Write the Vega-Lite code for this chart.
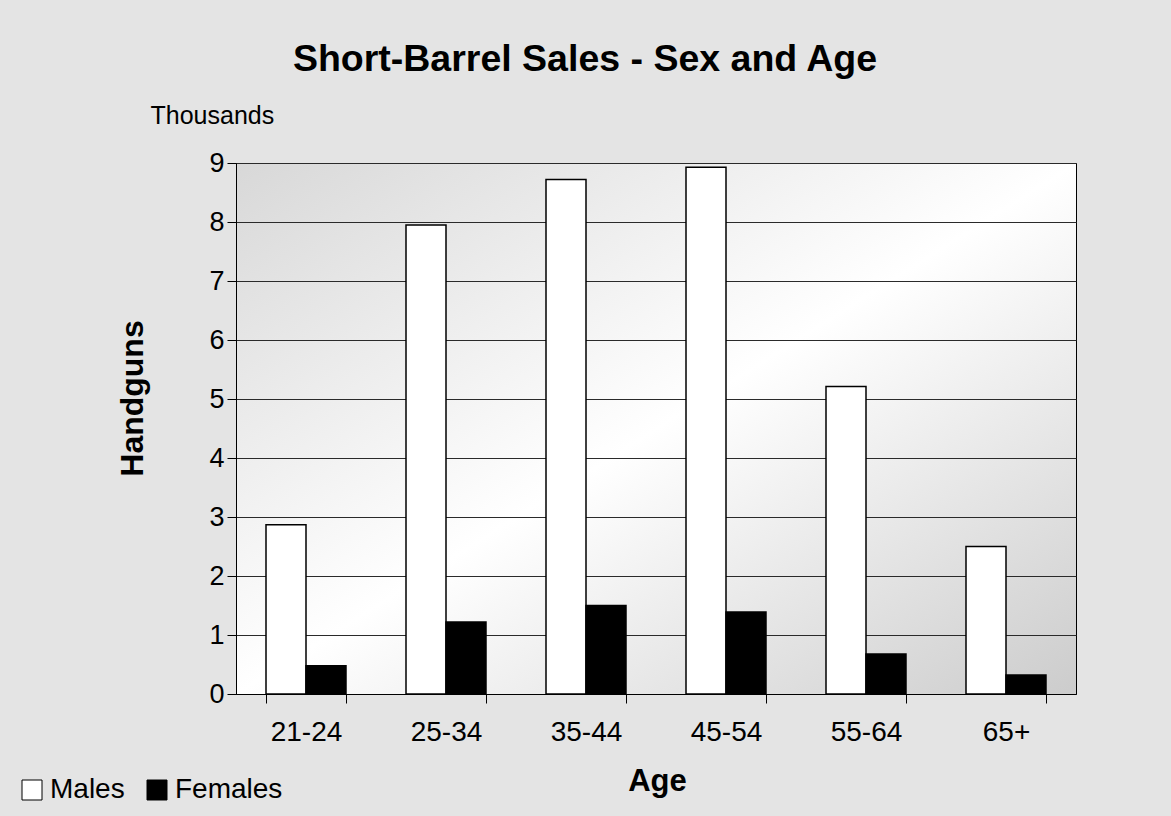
{
  "$schema": "https://vega.github.io/schema/vega-lite/v6.json",
  "width": 840,
  "height": 531,
  "autosize": {"type": "none"},
  "padding": {"left": 236, "top": 163, "right": 95, "bottom": 122},
  "background": "#e4e4e4",
  "title": {
    "text": "Short-Barrel Sales - Sex and Age",
    "fontSize": 37.5,
    "font": "Liberation Sans",
    "fontWeight": "bold",
    "color": "black",
    "anchor": "middle",
    "dx": -71,
    "baseline": "alphabetic",
    "offset": -5
  },
  "data": {
    "values": [
      {"age": "21-24", "sex": "Males", "value": 2.87},
      {"age": "21-24", "sex": "Females", "value": 0.48},
      {"age": "25-34", "sex": "Males", "value": 7.95},
      {"age": "25-34", "sex": "Females", "value": 1.22},
      {"age": "35-44", "sex": "Males", "value": 8.72},
      {"age": "35-44", "sex": "Females", "value": 1.50},
      {"age": "45-54", "sex": "Males", "value": 8.93},
      {"age": "45-54", "sex": "Females", "value": 1.39},
      {"age": "55-64", "sex": "Males", "value": 5.21},
      {"age": "55-64", "sex": "Females", "value": 0.68},
      {"age": "65+", "sex": "Males", "value": 2.50},
      {"age": "65+", "sex": "Females", "value": 0.32}
    ]
  },
  "view": {
    "fill": {
      "gradient": "linear",
      "x1": 0, "y1": 0, "x2": 1, "y2": 1,
      "stops": [
        {"offset": 0, "color": "#d8d8d8"},
        {"offset": 0.5, "color": "#ffffff"},
        {"offset": 1, "color": "#cccccc"}
      ]
    },
    "stroke": "black",
    "strokeWidth": 1
  },
  "layer": [
    {
      "mark": {"type": "bar", "stroke": "black", "strokeWidth": 1.5},
      "encoding": {
        "x": {
          "field": "age",
          "type": "nominal",
          "sort": null,
          "scale": {"paddingInner": 0.4286, "paddingOuter": 0.2143},
          "axis": {
            "tickBand": "extent",
            "tickSize": 9,
            "tickColor": "black",
            "labelFontSize": 28,
            "labelPadding": 15,
            "labelAngle": 0,
            "labelColor": "black",
            "domainColor": "black",
            "title": "Age",
            "titleFontSize": 31,
            "titleFontWeight": "bold",
            "titleColor": "black",
            "titleX": 421,
            "titleY": 96,
            "titleBaseline": "alphabetic",
            "titleAlign": "center"
          }
        },
        "xOffset": {
          "field": "sex",
          "type": "nominal",
          "sort": ["Males", "Females"],
          "scale": {"paddingInner": 0, "paddingOuter": 0}
        },
        "y": {
          "field": "value",
          "type": "quantitative",
          "scale": {"domain": [0, 9], "nice": false},
          "axis": {
            "values": [0, 1, 2, 3, 4, 5, 6, 7, 8, 9],
            "grid": true,
            "gridColor": "#2a2a2a",
            "gridOpacity": 1,
            "tickColor": "black",
            "tickSize": 9,
            "labelFontSize": 27,
            "labelPadding": 3,
            "labelColor": "black",
            "domainColor": "black",
            "title": "Handguns",
            "titleFontSize": 32,
            "titleFontWeight": "bold",
            "titleColor": "black",
            "titleX": -94,
            "titleY": 235,
            "titleAngle": -90,
            "titleBaseline": "alphabetic",
            "titleAlign": "center"
          }
        },
        "fill": {
          "field": "sex",
          "type": "nominal",
          "sort": ["Males", "Females"],
          "scale": {"domain": ["Males", "Females"], "range": ["white", "black"]},
          "legend": {
            "orient": "none",
            "legendX": -218,
            "legendY": 613,
            "direction": "horizontal",
            "title": null,
            "labelFontSize": 28,
            "labelColor": "black",
            "symbolType": "square",
            "symbolSize": 400,
            "symbolStrokeColor": "black",
            "symbolStrokeWidth": 1,
            "labelOffset": 4,
            "columnPadding": 18,
            "padding": 0
          }
        }
      }
    },
    {
      "mark": {"type": "rule", "opacity": 0},
      "encoding": {
        "y": {
          "field": "value",
          "type": "quantitative",
          "scale": {"domain": [0, 9], "nice": false},
          "axis": {
            "orient": "left",
            "title": "Thousands",
            "ticks": false,
            "labels": false,
            "domain": false,
            "grid": false,
            "titleAngle": 0,
            "titleAlign": "left",
            "titleBaseline": "alphabetic",
            "titleX": -86,
            "titleY": -40,
            "titleFontSize": 25,
            "titleFontWeight": "normal",
            "titleColor": "black"
          }
        }
      }
    }
  ],
  "resolve": {"axis": {"y": "independent"}},
  "config": {
    "font": "Liberation Sans",
    "axis": {"labelFont": "Liberation Sans", "titleFont": "Liberation Sans"},
    "legend": {"labelFont": "Liberation Sans"}
  }
}
